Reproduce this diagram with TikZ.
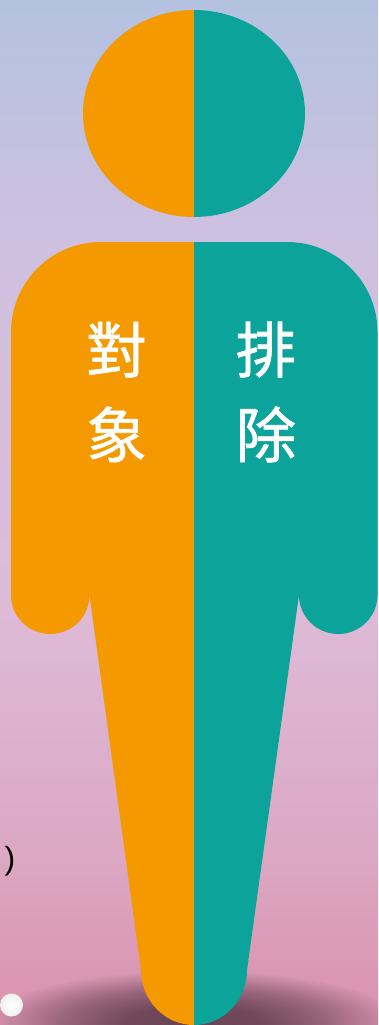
\documentclass[tikz,border=0pt]{standalone}
\usepackage{fontspec}
\setmainfont{Liberation Sans}
\newfontfamily\cjkfont[FakeBold=1.0]{Noto Sans CJK TC}
\usetikzlibrary{fadings}
\definecolor{orangeside}{HTML}{F49A00}
\definecolor{tealside}{HTML}{0CA49A}
\definecolor{shadowcol}{HTML}{6A4455}
\definecolor{bgA}{HTML}{B3C2E0}
\definecolor{bgB}{HTML}{CEC0E0}
\definecolor{bgC}{HTML}{DDBBD8}
\definecolor{bgD}{HTML}{DCA8C4}
\definecolor{bgE}{HTML}{DA94B0}
\pgfdeclareverticalshading{bgshade}{100bp}{
  color(0bp)=(bgE);
  color(26.2bp)=(bgE);
  color(33.5bp)=(bgD);
  color(45.7bp)=(bgC);
  color(63.8bp)=(bgB);
  color(75bp)=(bgA);
  color(100bp)=(bgA)}
\pgfdeclareradialshading{shadowmask}{\pgfpointorigin}{
  color(0bp)=(transparent!0);
  color(8bp)=(transparent!6);
  color(16bp)=(transparent!42);
  color(25bp)=(transparent!100);
  color(100bp)=(transparent!100)}
\pgfdeclarefading{shadowfade}{\pgfuseshading{shadowmask}}
\tikzset{
  x=1bp, y=-1bp,
  halfA/.style={fill=orangeside},
  halfB/.style={fill=tealside},
  bodytext/.style={text=white, font=\cjkfont\fontsize{60.5bp}{85bp}\selectfont, align=center, inner sep=0pt},
  marktext/.style={text=black, font=\fontsize{32bp}{32bp}\selectfont, inner sep=0pt}
}
\begin{document}
\begin{tikzpicture}
\useasboundingbox (0,0) rectangle (378,1025);
\begin{scope}
\clip (0,0) rectangle (378,1025);
\path[shading=bgshade] (0,1025) rectangle (378,0);
\path[fill=shadowcol, path fading=shadowfade, fit fading=true] (194,1022) ellipse [x radius=205, y radius=52];
\shade[inner color=white, outer color=white!88!gray] (11.5,1005) circle [radius=11.5];
\end{scope}
\node[marktext] (paren) at (10,861) {)};
% head
\path[halfA] (194,10) arc [start angle=90, end angle=270, x radius=111, y radius=-103.5] -- cycle;
\path[halfB] (194,10) arc [start angle=90, end angle=-90, x radius=111, y radius=-103.5] -- cycle;
% body
\path[halfA] (194,242) -- (101,242) arc [start angle=90, end angle=180, x radius=90, y radius=-90]
  -- (11,595) arc [start angle=180, end angle=360, x radius=39.25, y radius=-39]
  -- (141,970) arc [start angle=180, end angle=270, x radius=53, y radius=-55] -- cycle;
\path[halfB] (194,242) -- (287,242) arc [start angle=90, end angle=0, x radius=90.5, y radius=-90]
  -- (377.5,595) arc [start angle=0, end angle=-180, x radius=39.25, y radius=-39]
  -- (247,970) arc [start angle=0, end angle=-90, x radius=53, y radius=-55] -- cycle;
\node[bodytext] (target) at (116.5,392) {對\\象};
\node[bodytext] (exclude) at (266,392) {排\\除};
\end{tikzpicture}
\end{document}
